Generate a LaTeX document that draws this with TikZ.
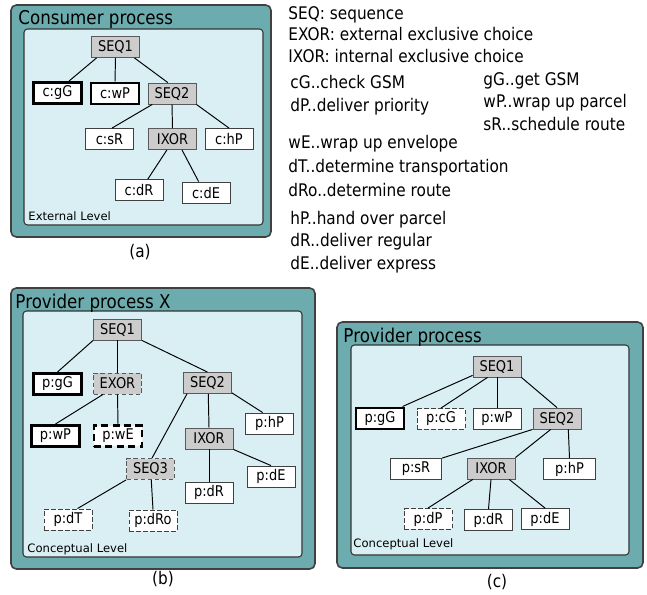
\documentclass[tikz,border=0pt]{standalone}
\usepackage{fontspec}
\setmainfont{DejaVu Sans}[FakeStretch=0.88]
\newfontfamily\levelfont{DejaVu Sans}
\usetikzlibrary{arrows}

\begin{document}
\begin{tikzpicture}[x=0.02cm,y=-0.02cm,line width=0.55pt,
	act/.style={draw=black!75,line width=0.5pt,fill=white,minimum width=0.96cm,minimum height=0.42cm,
		inner sep=0pt,font=\fontsize{8.4}{9}\selectfont},
	ctrl/.style={act,fill=gray!40,draw=black!65},
	strong/.style={line width=1.7pt,draw=black},
	optional/.style={dash pattern=on 2.6pt off 1.4pt},
	title/.style={anchor=base west,inner sep=0pt,font=\fontsize{10.8}{12}\selectfont},
	level/.style={anchor=base west,inner sep=0pt,font=\levelfont\fontsize{6.6}{8}\selectfont},
	legend/.style={anchor=base west,inner sep=0pt,font=\fontsize{9.9}{12}\selectfont},
	caption/.style={inner sep=0pt,font=\fontsize{9.9}{12}\selectfont}]

\definecolor{outerteal}{RGB}{108,172,175}
\definecolor{innercyan}{RGB}{217,239,243}

\def\panel#1#2#3#4{
	\filldraw[fill=outerteal,draw=black!75,line width=0.9pt,rounded corners=3pt] #1 rectangle #2;
	\filldraw[fill=innercyan,draw=black!80,line width=0.6pt,rounded corners=2pt] #3 rectangle #4;
}

\useasboundingbox (0,0) rectangle (647,595);

% (a) consumer
\begin{scope}
	\panel{(11,5)}{(271,237)}{(24,29)}{(263,225)}
	\node[title] (atitle) at (18,25) {Consumer process};
	\node[level] (alevel) at (28,220) {External Level};
	\node[ctrl] (aSEQ1) at (115.5,47) {SEQ1};
	\node[act,strong] (agG) at (57.5,93) {c:gG};
	\node[act,strong] (awP) at (115,93.5) {c:wP};
	\node[ctrl] (aSEQ2) at (172,93.5) {SEQ2};
	\node[act] (asR) at (109.5,139) {c:sR};
	\node[ctrl] (aIXOR) at (172.5,139) {IXOR};
	\node[act] (ahP) at (229,139) {c:hP};
	\node[act] (adR) at (139,190) {c:dR};
	\node[act] (adE) at (206,192.5) {c:dE};
	\draw (aSEQ1.-150) -- (agG.46);
	\draw (aSEQ1.south) -- (awP.north);
	\draw (aSEQ1.-30) -- (aSEQ2.111);
	\draw (aSEQ2.-151) -- (asR.77);
	\draw (aSEQ2.south) -- (aIXOR.north);
	\draw (aSEQ2.south east) -- (ahP.north);
	\draw (aIXOR.-117) -- (adR.51);
	\draw (aIXOR.-49) -- (adE.124);
	\node[caption] (acap) at (140,252) {(a)};
\end{scope}

% (b) provider X
\begin{scope}
	\panel{(11,288)}{(315,569)}{(23,311)}{(302,557)}
	\node[title] (btitle) at (15,308) {Provider process X};
	\node[level] (blevel) at (27,552) {Conceptual Level};
	\node[ctrl] (bSEQ1) at (117.5,329.5) {SEQ1};
	\node[act,strong] (bgG) at (57.5,384) {p:gG};
	\node[ctrl,optional] (bEXOR) at (117.5,383.5) {EXOR};
	\node[ctrl] (bSEQ2) at (207.5,383) {SEQ2};
	\node[act,strong] (bwP) at (55.5,436) {p:wP};
	\node[act,strong,dash pattern=on 4pt off 2.5pt] (bwE) at (118,436) {p:wE};
	\node[act] (bhP) at (269.5,423.5) {p:hP};
	\node[ctrl] (bIXOR) at (209,438.5) {IXOR};
	\node[ctrl,optional] (bSEQ3) at (150.5,469) {SEQ3};
	\node[act] (bdE) at (271,476.5) {p:dE};
	\node[act] (bdR) at (209,492.5) {p:dR};
	\node[act,optional] (bdT) at (68,519.5) {p:dT};
	\node[act,optional] (bdRo) at (153,520.5) {p:dRo};
	\draw (bSEQ1.south west) -- (bgG.north);
	\draw (bSEQ1.south) -- (bEXOR.north);
	\draw (bSEQ1.south east) -- (bSEQ2.north);
	\draw (bEXOR.-143) -- (bwP.north);
	\draw (bEXOR.south) -- (bwE.north);
	\draw (bSEQ2.-152) -- (bSEQ3.82);
	\draw (bSEQ2.-86) -- (bIXOR.north);
	\draw (bSEQ2.-22) -- (bhP.122);
	\draw (bIXOR.south) -- (bdR.north);
	\draw (bIXOR.south east) -- (bdE.north);
	\draw (bSEQ3.south west) -- (bdT.49);
	\draw (bSEQ3.-86) -- (bdRo.north);
	\node[caption] (bcap) at (163,579) {(b)};
\end{scope}

% (c) provider
\begin{scope}
	\panel{(337,322)}{(643,568)}{(351,345)}{(629,555)}
	\node[title] (ctitle) at (343,342) {Provider process};
	\node[level] (clevel) at (353,547) {Conceptual Level};
	\node[ctrl] (cSEQ1) at (497,366.5) {SEQ1};
	\node[act,strong] (cgG) at (380,418.5) {p:gG};
	\node[act,optional] (ccG) at (441,419) {p:cG};
	\node[act] (cwP) at (497,418.5) {p:wP};
	\node[ctrl] (cSEQ2) at (557,418.5) {SEQ2};
	\node[act,minimum width=1.03cm] (csR) at (416,469) {p:sR};
	\node[ctrl] (cIXOR) at (491,468.5) {IXOR};
	\node[act,minimum width=1.03cm] (chP) at (569.5,469) {p:hP};
	\node[act,optional] (cdP) at (428,519) {p:dP};
	\node[act] (cdR) at (488.5,520) {p:dR};
	\node[act] (cdE) at (545,519) {p:dE};
	\draw (cSEQ1.-160) -- (cgG.28);
	\draw (cSEQ1.-131) -- (ccG.north);
	\draw (cSEQ1.south) -- (cwP.north);
	\draw (cSEQ1.south east) -- (cSEQ2.north);
	\draw (cSEQ2.south west) -- (csR.north east);
	\draw (cSEQ2.-120) -- (cIXOR.north east);
	\draw (cSEQ2.-44) -- (chP.north);
	\draw (cIXOR.-149) -- (cdP.north);
	\draw (cIXOR.south) -- (cdR.north);
	\draw (cIXOR.-31) -- (cdE.north);
	\node[caption] (ccap) at (497,582) {(c)};
\end{scope}

% legend
\node[legend] (lSEQ) at (288,19) {SEQ: sequence};
\node[legend] (lEXOR) at (288,40) {EXOR: external exclusive choice};
\node[legend] (lIXOR) at (288,62) {IXOR: internal exclusive choice};
\node[legend] (lcG) at (290,89) {cG..check GSM};
\node[legend] (ldP) at (290,112) {dP..deliver priority};
\node[legend] (lgG) at (483,86) {gG..get GSM};
\node[legend] (lwP) at (483,108) {wP..wrap up parcel};
\node[legend] (lsR) at (483,131) {sR..schedule route};
\node[legend] (lwE) at (288,149) {wE..wrap up envelope};
\node[legend] (ldT) at (288,173) {dT..determine transportation};
\node[legend] (ldRo) at (288,196) {dRo..determine route};
\node[legend] (lhP) at (290,224) {hP..hand over parcel};
\node[legend] (ldR) at (290,246) {dR..deliver regular};
\node[legend] (ldE) at (290,269) {dE..deliver express};

\end{tikzpicture}
\end{document}
